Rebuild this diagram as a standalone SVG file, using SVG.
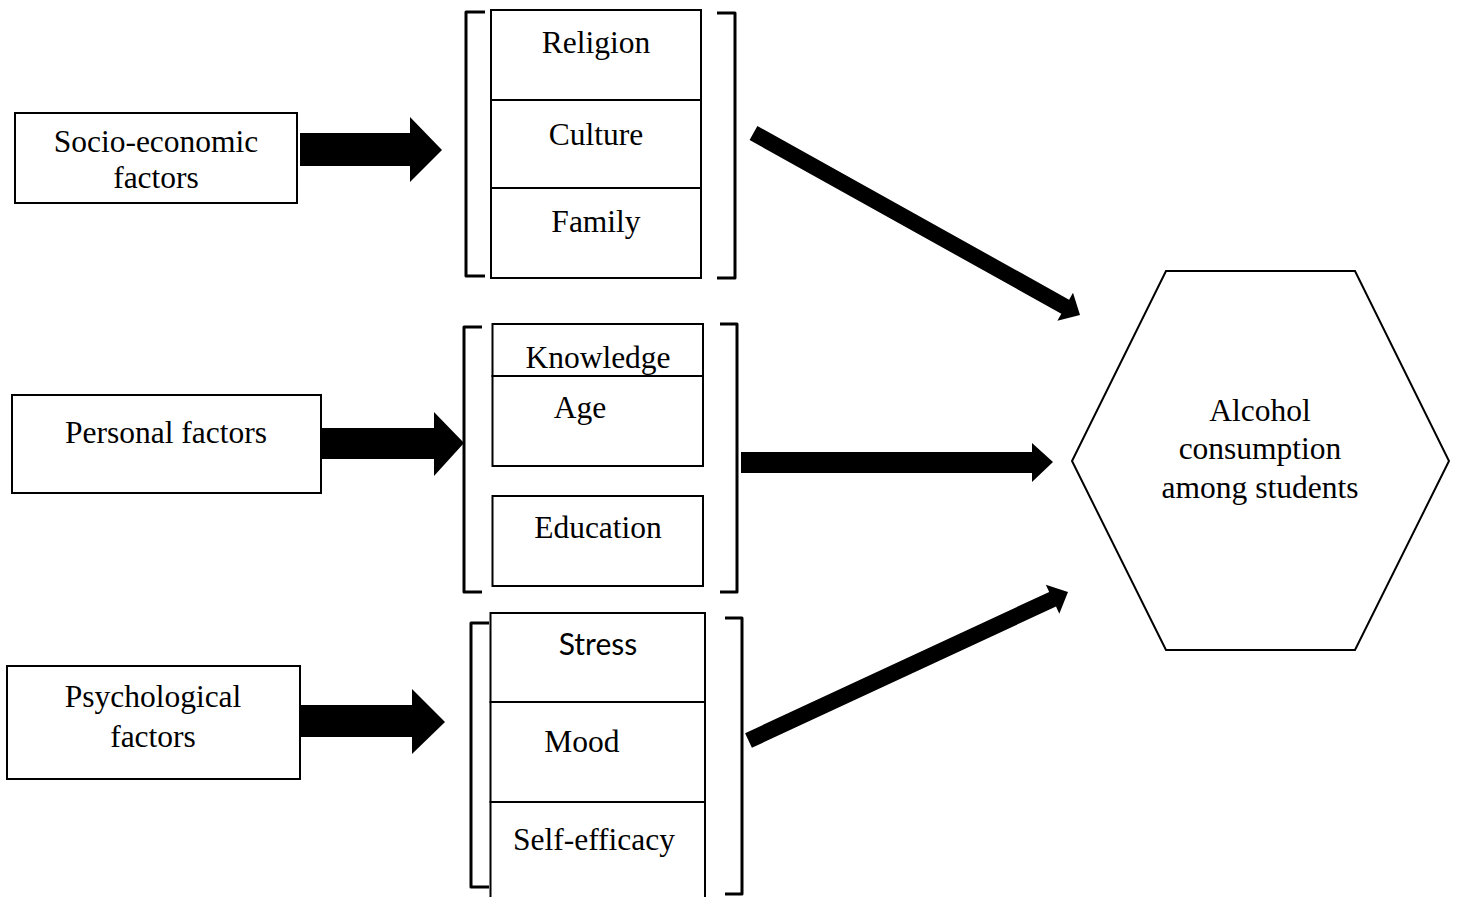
<svg xmlns="http://www.w3.org/2000/svg" width="1458" height="897" viewBox="0 0 1458 897">
<style>
.box{fill:#fff;stroke:#000;stroke-width:2}
.br{fill:none;stroke:#000;stroke-width:3;stroke-linejoin:round}
.t{font-family:"Liberation Serif","Times New Roman",serif;font-size:31.5px;fill:#000;text-anchor:middle}
.s{font-family:Lato,"Liberation Sans",sans-serif;font-size:30px;fill:#000;text-anchor:middle}
.arr{fill:#000}
</style>
<rect width="1458" height="897" fill="#fff"/>
<g id="socio"><rect class="box" x="15" y="113" width="282" height="90"/><text class="t" x="156" y="152">Socio-economic</text><text class="t" x="156" y="188">factors</text></g>
<g id="personal"><rect class="box" x="12" y="395" width="309" height="98"/><text class="t" x="166" y="443">Personal factors</text></g>
<g id="psych"><rect class="box" x="7" y="666" width="293" height="113"/><text class="t" x="153" y="707">Psychological</text><text class="t" x="153" y="747">factors</text></g>
<g id="group1">
<path class="br" d="M485,12 H466 V276 H485"/><path class="br" d="M717,13 H735 V278 H717"/>
<g id="religion"><rect class="box" x="491" y="10" width="210" height="90"/><text class="t" x="596" y="53">Religion</text></g>
<g id="culture"><rect class="box" x="491" y="100" width="210" height="88"/><text class="t" x="596" y="145">Culture</text></g>
<g id="family"><rect class="box" x="491" y="188" width="210" height="90"/><text class="t" x="596" y="232">Family</text></g>
</g>
<g id="group2">
<path class="br" d="M482,327 H464 V592 H482"/><path class="br" d="M720,324 H737 V592 H720"/>
<g id="knowledge"><rect class="box" x="492.5" y="324" width="210.5" height="52"/><text class="t" x="598" y="368">Knowledge</text></g>
<g id="age"><rect class="box" x="492.5" y="376" width="210.5" height="90" style="fill:none"/><text class="t" x="580" y="418">Age</text></g>
<g id="education"><rect class="box" x="492.5" y="496" width="210.5" height="90"/><text class="t" x="598" y="538">Education</text></g>
</g>
<g id="group3">
<path class="br" d="M489,623 H471 V887 H489"/><path class="br" d="M725,618 H742 V894 H725"/>
<g id="stress"><rect class="box" x="490.5" y="613" width="214.5" height="89"/><text class="s" x="598" y="655">Stress</text></g>
<g id="mood"><rect class="box" x="490.5" y="702" width="214.5" height="100"/><text class="t" x="582" y="752">Mood</text></g>
<g id="selfefficacy"><rect class="box" x="490.5" y="802" width="214.5" height="110"/><text class="t" x="594" y="850">Self-efficacy</text></g>
</g>
<g id="outcome"><polygon class="box" points="1166,271 1355,271 1449,461 1355,650 1166,650 1072,461"/><text class="t" x="1260" y="421">Alcohol</text><text class="t" x="1260" y="459">consumption</text><text class="t" x="1260" y="498">among students</text></g>
<g id="connectors">
<polygon class="arr" points="300,133 410,133 410,117 442,150 410,182 410,166 300,166"/>
<polygon class="arr" points="322,428 434,428 434,412 464,443 434,476 434,459 322,459"/>
<polygon class="arr" points="301,705 412,705 412,689 445,722 412,754 412,737 301,737"/>
<polygon class="arr" points="741,452 1032,452 1032,443 1053,462 1032,482 1032,473 741,473"/>
<polygon class="arr" points="757.4,126 1069.1,299.7 1073,292.7 1080,315 1057.4,320.7 1061.3,313.7 749.6,140"/>
<polygon class="arr" points="745.1,733.2 1049.2,591.9 1045.8,584.7 1068,592 1059.3,613.7 1056,606.5 751.9,747.8"/>
</g>
</svg>
